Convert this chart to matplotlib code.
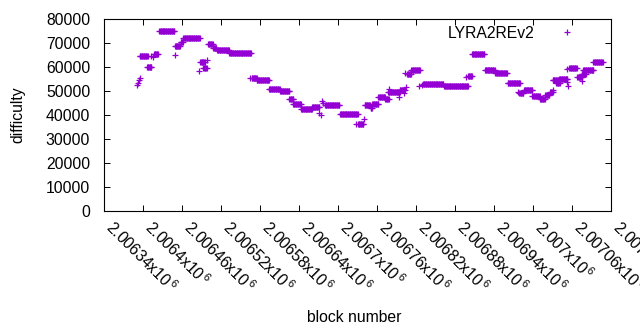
import numpy as np
import matplotlib.pyplot as plt
from matplotlib.ticker import MultipleLocator, FuncFormatter

plt.rcParams['font.family'] = ['Liberation Sans', 'DejaVu Sans']
plt.rcParams['mathtext.fontset'] = 'custom'
plt.rcParams['mathtext.rm'] = 'Liberation Sans'

# runs of equal difficulty: first block, last block, difficulty
run_start = [2006390, 2006392, 2006394, 2006396, 2006395, 2006406, 2006413, 2006416,
             2006417, 2006425, 2006449, 2006449, 2006458, 2006462, 2006486, 2006488,
             2006493, 2006499, 2006500, 2006508, 2006514, 2006533, 2006564, 2006567,
             2006575, 2006594, 2006611, 2006625, 2006631, 2006643, 2006660, 2006671,
             2006674, 2006675, 2006677, 2006680, 2006703, 2006727, 2006731, 2006740,
             2006741, 2006750, 2006753, 2006762, 2006773, 2006778, 2006777, 2006794,
             2006795, 2006802, 2006804, 2006803, 2006806, 2006813, 2006825, 2006829,
             2006831, 2006863, 2006897, 2006900, 2006906, 2006926, 2006942, 2006961,
             2006977, 2006979, 2006986, 2006999, 2007011, 2007019, 2007026, 2007031,
             2007030, 2007036, 2007040, 2007052, 2007054, 2007053, 2007056, 2007068,
             2007075, 2007075, 2007077, 2007093]
run_end = [2006390, 2006392, 2006394, 2006396, 2006407, 2006413, 2006413, 2006416,
           2006423, 2006448, 2006449, 2006457, 2006461, 2006487, 2006486, 2006495,
           2006498, 2006499, 2006507, 2006513, 2006532, 2006566, 2006564, 2006575,
           2006594, 2006610, 2006625, 2006631, 2006643, 2006660, 2006671, 2006671,
           2006674, 2006675, 2006677, 2006702, 2006730, 2006727, 2006739, 2006740,
           2006749, 2006752, 2006762, 2006772, 2006778, 2006778, 2006795, 2006794,
           2006803, 2006802, 2006804, 2006803, 2006812, 2006826, 2006825, 2006829,
           2006862, 2006900, 2006897, 2006906, 2006925, 2006941, 2006960, 2006980,
           2006977, 2006985, 2006999, 2007010, 2007018, 2007025, 2007030, 2007031,
           2007039, 2007041, 2007053, 2007052, 2007054, 2007053, 2007067, 2007076,
           2007075, 2007081, 2007093, 2007107]
run_diff = [52300, 53300, 54500, 55600, 64500, 59900, 64600, 64300,
            65300, 75200, 65000, 68600, 70600, 71900, 58500, 61900,
            59600, 62900, 69500, 67900, 67000, 65700, 55300, 55500,
            54400, 50700, 49800, 46500, 44400, 42400, 43200, 40800,
            40000, 45800, 45000, 44000, 40300, 36100, 36400, 38200,
            44300, 43000, 44500, 47300, 46500, 51000, 49700, 47700,
            50500, 49000, 51600, 57400, 57200, 58700, 51900, 52600,
            52800, 51900, 56000, 56100, 65300, 58900, 57400, 53500,
            49700, 49300, 50500, 47800, 46700, 48200, 49400, 50300,
            54600, 53300, 55200, 53900, 52100, 59000, 59500, 56000,
            54300, 57000, 58900, 61900]

blocks = np.concatenate([np.arange(s, e + 1) for s, e in zip(run_start, run_end)])
diffs = np.concatenate([np.full(e - s + 1, d) for s, e, d in zip(run_start, run_end, run_diff)])

fig = plt.figure(figsize=(6.4, 3.3), dpi=100)
ax = fig.add_axes([104 / 640, 1 - 211 / 330, 507 / 640, 192 / 330])

ax.plot(blocks, diffs, '+', color='#9400d3', ms=5, mew=0.9, label='LYRA2REv2')

ax.set_xlim(2006340, 2007120)
ax.set_ylim(0, 80000)
ax.xaxis.set_major_locator(MultipleLocator(60))
ax.yaxis.set_major_locator(MultipleLocator(10000))
ax.xaxis.set_major_formatter(FuncFormatter(lambda v, p: r'$\mathregular{%gx10^{\,6}}$' % (v / 1e6)))

ax.tick_params(direction='in', length=4.5, width=0.7, top=True, right=True,
               labelsize=11.3, colors='black')
ax.tick_params(axis='y', pad=10)
ax.tick_params(axis='x', pad=13)
for lab in ax.get_xticklabels():
    lab.set_rotation(-45)
    lab.set_ha('left')
    lab.set_va('baseline')
    lab.set_rotation_mode('anchor')
for sp in ax.spines.values():
    sp.set_linewidth(0.8)

ax.set_ylabel('difficulty', fontsize=11.3)
ax.yaxis.set_label_coords(-0.155, 0.5)
ax.set_xlabel('block number', fontsize=11.3)
ax.xaxis.set_label_coords(0.493, -0.515)
ax.xaxis.label.set_va('top')

ax.legend(loc='upper right', bbox_to_anchor=(0.9448, 0.965), frameon=False,
          markerfirst=False, handlelength=2, handletextpad=1.1, borderpad=0,
          borderaxespad=0, fontsize=11.3)

fig.savefig('out.png', dpi=100)
